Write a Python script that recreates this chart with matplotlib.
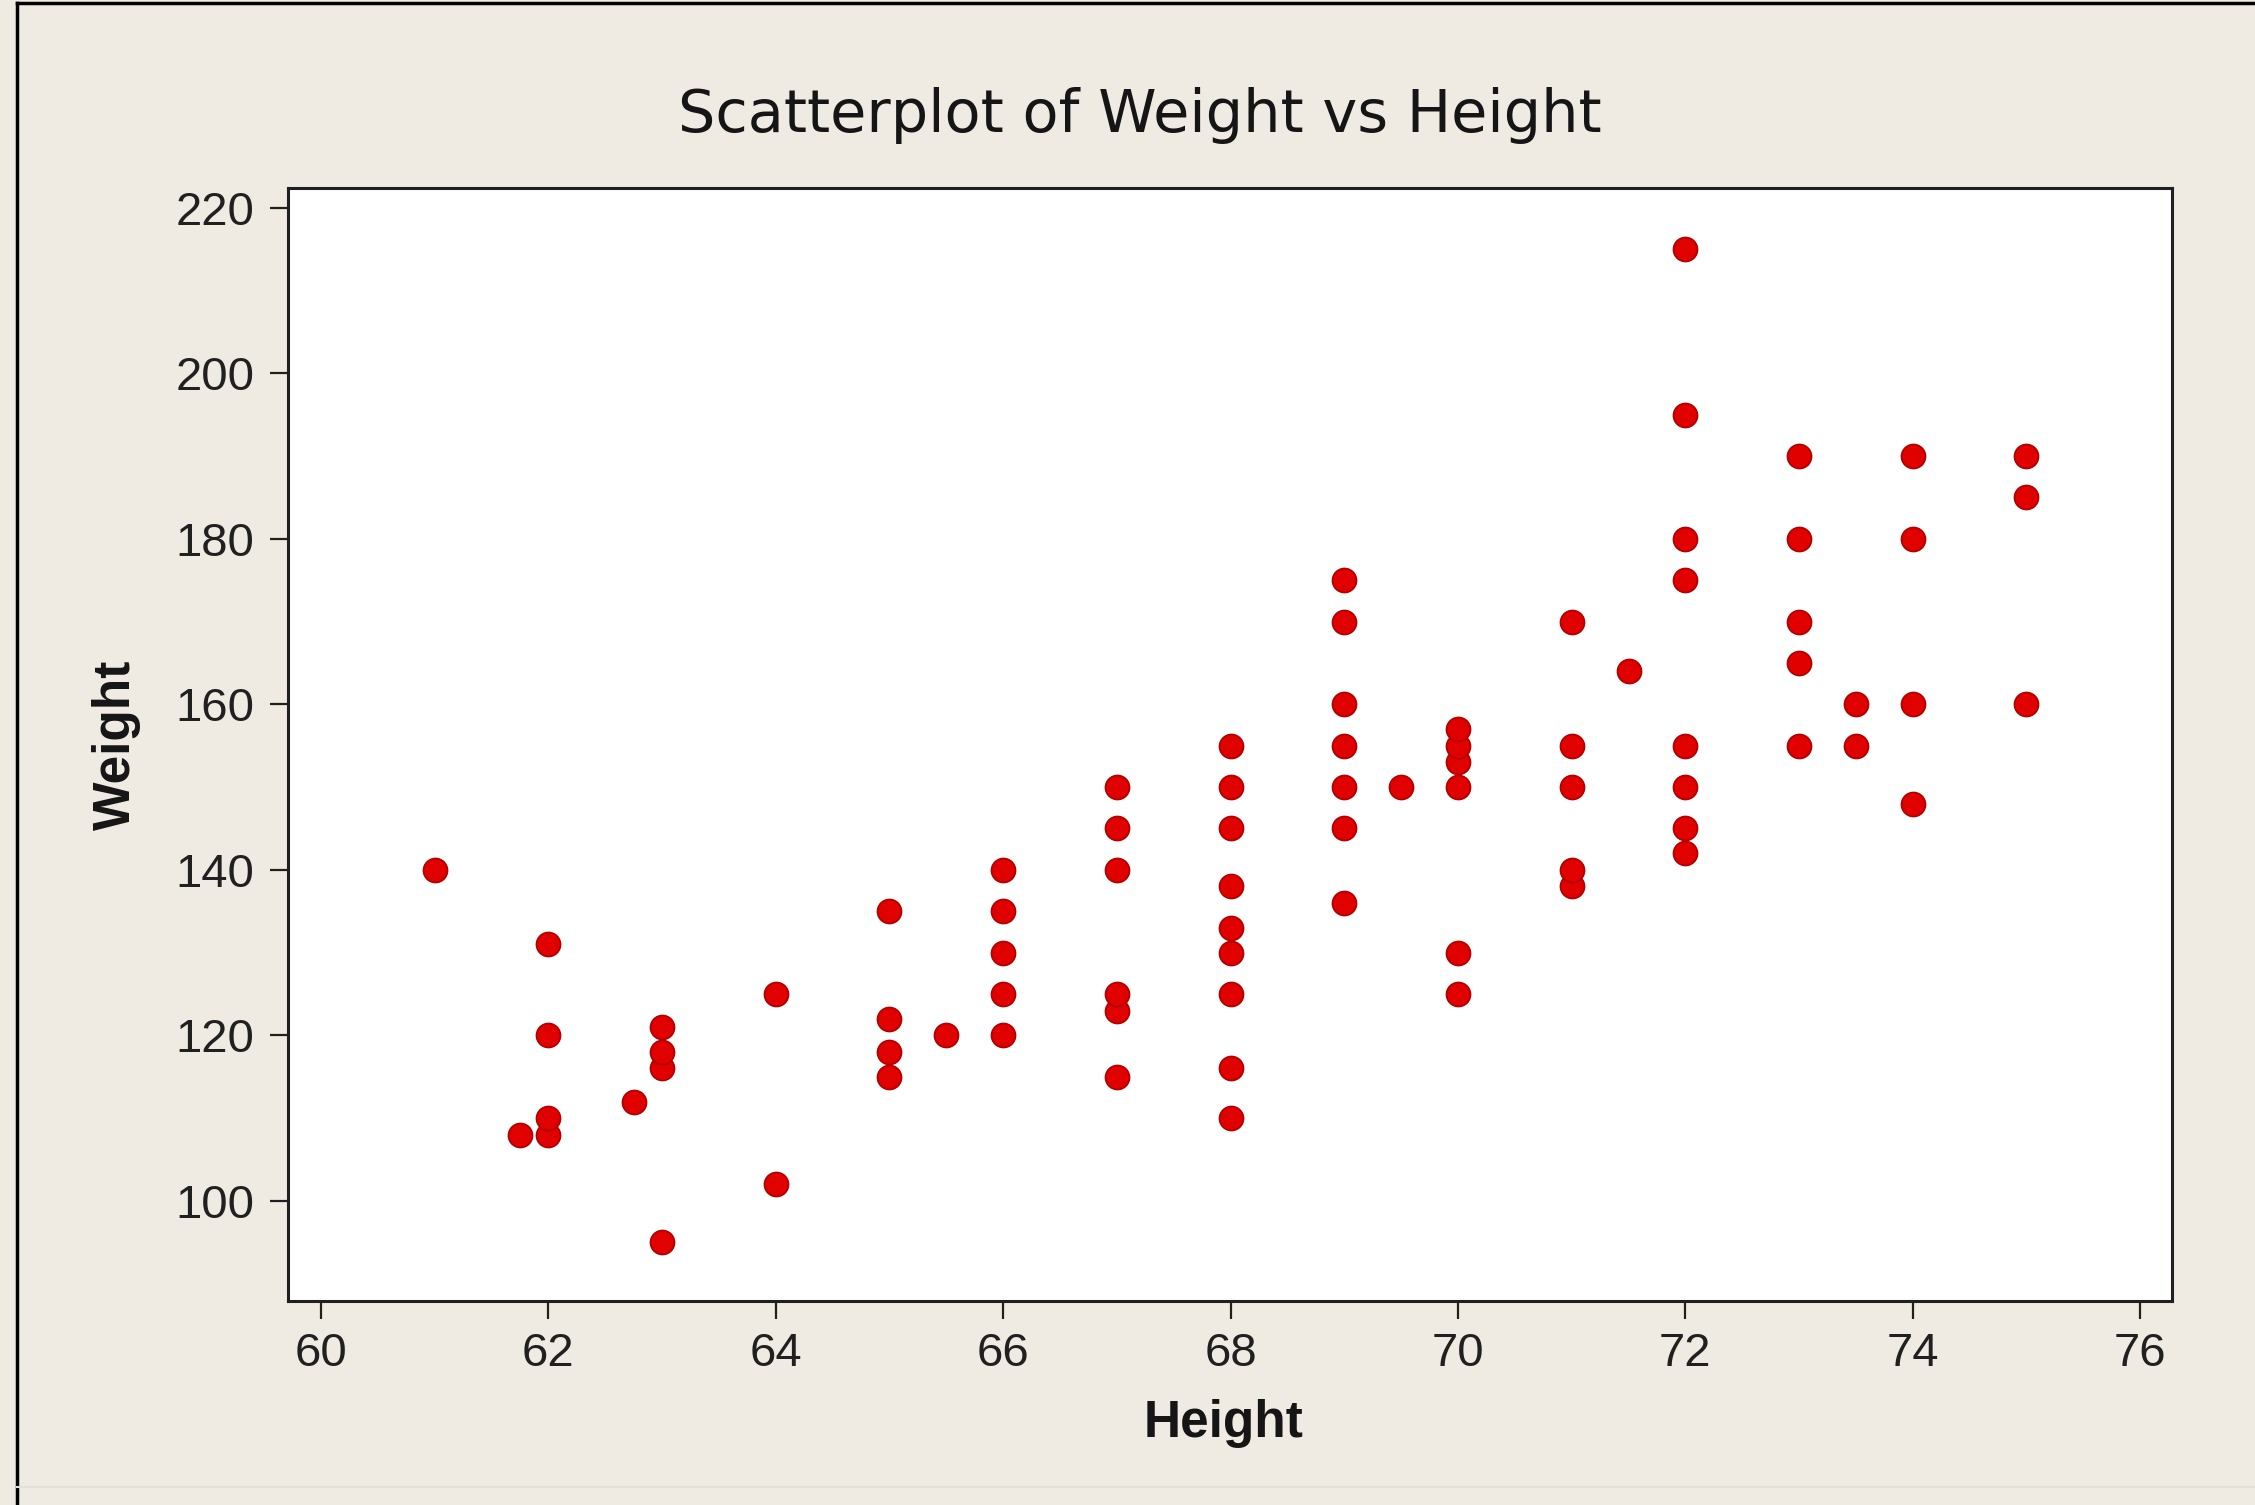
import matplotlib
matplotlib.use("Agg")
import matplotlib.pyplot as plt
from matplotlib.lines import Line2D

# Data
height = [61, 61.75,
          62, 62, 62, 62,
          62.75,
          63, 63, 63, 63,
          64, 64,
          65, 65, 65, 65,
          65.5,
          66, 66, 66, 66, 66,
          67, 67, 67, 67, 67, 67,
          68, 68, 68, 68, 68, 68, 68, 68, 68,
          69, 69, 69, 69, 69, 69, 69,
          69.5,
          70, 70, 70, 70, 70, 70,
          71, 71, 71, 71, 71,
          71.5,
          72, 72, 72, 72, 72, 72, 72, 72,
          73, 73, 73, 73, 73,
          73.5, 73.5,
          74, 74, 74, 74,
          75, 75, 75]
weight = [140, 108,
          108, 110, 120, 131,
          112,
          95, 116, 118, 121,
          102, 125,
          115, 118, 122, 135,
          120,
          120, 125, 130, 135, 140,
          115, 123, 125, 140, 145, 150,
          110, 116, 125, 130, 133, 138, 145, 150, 155,
          136, 145, 150, 155, 160, 170, 175,
          150,
          125, 130, 150, 153, 155, 157,
          138, 140, 150, 155, 170,
          164,
          142, 145, 150, 155, 175, 180, 195, 215,
          155, 165, 170, 180, 190,
          155, 160,
          148, 160, 180, 190,
          160, 185, 190]
x_ticks = [60, 62, 64, 66, 68, 70, 72, 74, 76]
y_ticks = [100, 120, 140, 160, 180, 200, 220]

W, H = 2255, 1505
bg = "#F0EBE2"
fig = plt.figure(figsize=(W / 100, H / 100), dpi=100, facecolor=bg)

ax = fig.add_axes([288 / W, 1 - 1301 / H, (2172 - 288) / W, (1301 - 188) / H])
ax.set_facecolor("white")
ax.scatter(height, weight, s=300, c="#E00000", edgecolors="#B00000",
           linewidths=1.2, zorder=3, clip_on=False)
ax.set_xlim(59.71, 76.28)
ax.set_ylim(87.9, 222.4)
ax.set_xticks(x_ticks)
ax.set_yticks(y_ticks)
ax.set_xticklabels([str(v) for v in x_ticks])
ax.set_yticklabels([str(v) for v in y_ticks])

for s in ax.spines.values():
    s.set_linewidth(2.2)
    s.set_color("#202020")

ax.tick_params(axis="both", direction="out", length=13, width=1.6,
               color="#202020", labelcolor="#202020")
ax.tick_params(axis="x", pad=9, top=False)
ax.tick_params(axis="y", pad=11, right=False)
for lab in ax.get_xticklabels() + ax.get_yticklabels():
    lab.set_fontfamily("Liberation Sans")
    lab.set_fontsize(34)

fig.text(1140 / W, 1 - 132 / H, "Scatterplot of Weight vs Height",
         ha="center", va="baseline", family="DejaVu Sans", fontsize=42.5,
         color="#151515")
fig.text(1224 / W, 1 - 1437 / H, "Height", ha="center", va="baseline",
         family="Liberation Sans", fontweight="bold", fontsize=37,
         color="#151515")
fig.text(116 / W, 1 - 745 / H, "Weight", ha="center", va="center",
         rotation=90, family="Liberation Sans", fontweight="bold",
         fontsize=37, color="#151515")

# window frame lines (top and left black edges, faint bottom line)
fig.add_artist(Line2D([17 / W, 1], [1 - 3 / H, 1 - 3 / H], transform=fig.transFigure,
                      color="black", lw=2.5))
fig.add_artist(Line2D([17 / W, 17 / W], [0, 1 - 3 / H], transform=fig.transFigure,
                      color="black", lw=2.5))
fig.add_artist(Line2D([17 / W, 1], [1 - 1487 / H, 1 - 1487 / H], transform=fig.transFigure,
                      color="#E4E0D8", lw=1.5))

fig.savefig("out.png", dpi=100, facecolor=bg)
